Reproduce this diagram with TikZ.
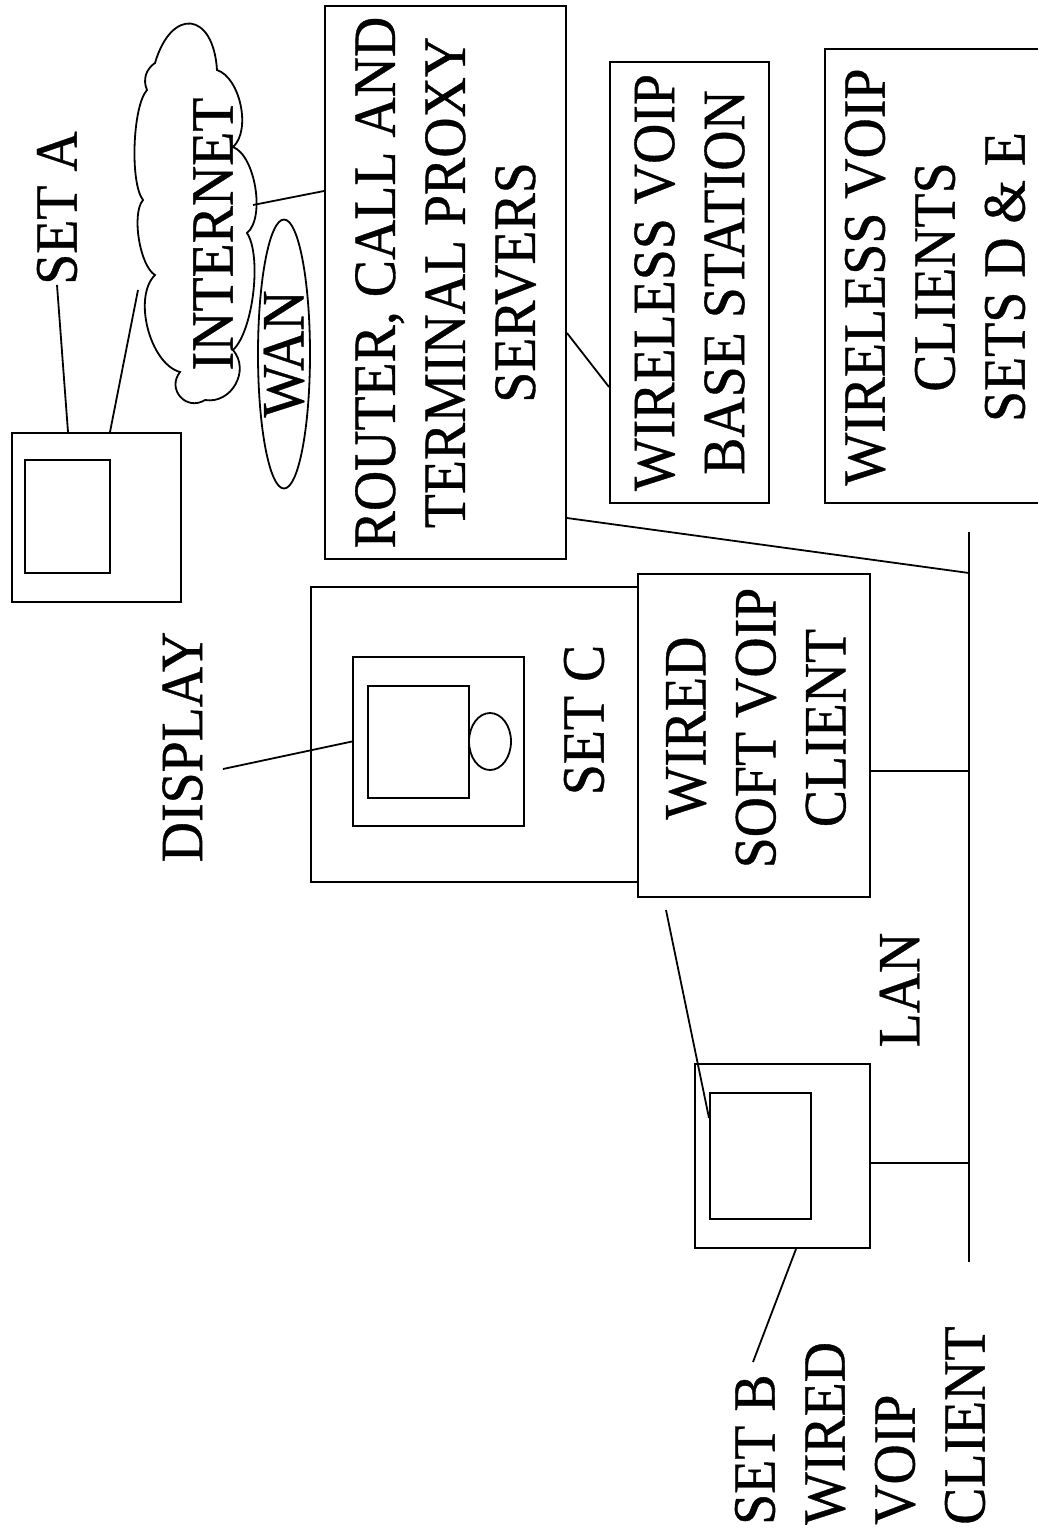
\documentclass[tikz,border=0pt]{standalone}
\usepackage{fontspec}
\setmainfont{Liberation Serif}[FakeStretch=0.93,FakeBold=0.6]
\usetikzlibrary{shapes.geometric}

\tikzset{
  box/.style={draw, line width=2pt, inner sep=0pt},
  lbl/.style={rotate=90, inner sep=0pt, align=center,
    font=\fontsize{60}{70}\selectfont},
  wire/.style={line width=1.8pt},
}

\begin{document}
\begin{tikzpicture}[x=1pt, y=-1pt]
\useasboundingbox (0,0) rectangle (1037,1535);

% Set A and the internet
\node[box, minimum width=169pt, minimum height=169pt] (setA) at (96.5,517.5) {};
\node[box, minimum width=85pt, minimum height=113pt] (setAscr) at (67.5,516.5) {};
\node[lbl] (setAlbl) at (57,208) {SET A};
% cloud
\draw[wire] (155,63) to[bend left=80, looseness=2.4] (217,70)
  to[bend left=60, looseness=0.8] (233,147)
  to[bend left=60, looseness=0.7] (247,233)
  to[bend left=40, looseness=0.6] (233,350)
  to[bend left=70, looseness=1.2] (205,400)
  to[bend left=80, looseness=1.5] (180,372)
  to[bend left=60, looseness=0.8] (155,275)
  to[bend left=50, looseness=0.6] (143,200)
  to[bend left=40, looseness=0.5] (147,90)
  to[bend left=40] (155,63) -- cycle;
\node[lbl] (netlbl) at (213,234) {INTERNET};
\coordinate (cloudtip) at (138,290);
\coordinate (cloudE) at (253,205);
\draw[wire] (setAlbl.west) -- ([xshift=-28.5pt]setA.north);
\draw[wire] ([xshift=13.5pt]setA.north) -- (cloudtip);

% WAN
\node[ellipse, draw, line width=1.8pt, minimum width=52pt, minimum height=269pt,
      inner sep=0pt] (wan) at (284,354) {};
\node[lbl] at (wan.center) {WAN};

% servers
\node[box, minimum width=241pt, minimum height=553pt] (router) at (445.5,282.5) {};
\node[lbl] at (router.center) {ROUTER, CALL AND\\TERMINAL PROXY\\SERVERS};
\draw[wire] (cloudE) -- ([yshift=91.5pt]router.west);

% wireless side
\node[box, minimum width=159pt, minimum height=441pt] (base) at (689.5,282.5) {};
\node[lbl] at (base.center) {WIRELESS VOIP\\BASE STATION};
\draw[wire] ([yshift=-50.5pt]router.east) -- ([yshift=-104.5pt]base.west);
\node[box, minimum width=226pt, minimum height=454pt] (clients) at (938,276) {};
\node[lbl] at (935,277) {WIRELESS VOIP\\CLIENTS\\SETS D \& E};

% Set C
\node[box, minimum width=327pt, minimum height=295pt] (setC) at (474.5,734.5) {};
\node[box, minimum width=171pt, minimum height=169pt] (setCmon) at (438.5,741.5) {};
\node[box, minimum width=101pt, minimum height=112pt] (setCscr) at (418.5,742) {};
\node[ellipse, draw, line width=1.8pt, minimum width=42pt, minimum height=57pt,
      inner sep=0pt] (cam) at (490,741.5) {};
\node[lbl] at (584,720) {SET C};
\node[lbl] (displbl) at (182.5,747) {DISPLAY};
\coordinate (disptip) at (223,769);
\draw[wire] (disptip) -- (setCmon.west);
\node[box, minimum width=232pt, minimum height=323pt] (soft) at (754,735.5) {};
\node[lbl] at (756,728) {WIRED\\SOFT VOIP\\CLIENT};

% LAN
\coordinate (lantop) at (969,532);
\coordinate (lanbot) at (969,1262);
\draw[wire] (lantop) -- (lanbot);
\node[lbl] at (899.5,990) {LAN};
\draw[wire] ([yshift=-235.5pt]router.east) -- (969,573);
\draw[wire] ([yshift=-35.5pt]soft.east) coordinate (s1) -- (s1 -| lantop);

% Set B
\node[box, minimum width=175pt, minimum height=184pt] (setB) at (782.5,1156) {};
\node[box, minimum width=101pt, minimum height=126pt] (setBscr) at (760.5,1156) {};
\draw[wire] ([yshift=-7pt]setB.east) coordinate (b1) -- (b1 -| lantop);
\coordinate (softtip) at (666,910);
\draw[wire] (softtip) -- ([yshift=38pt]setBscr.west);
\node[lbl, align=left, anchor=west] (setBlbl) at (860,1525) {SET B\\WIRED\\VOIP\\CLIENT};
\coordinate (setBtip) at (753,1362);
\draw[wire] (setBtip) -- ([xshift=13.5pt]setB.south);
\end{tikzpicture}
\end{document}
